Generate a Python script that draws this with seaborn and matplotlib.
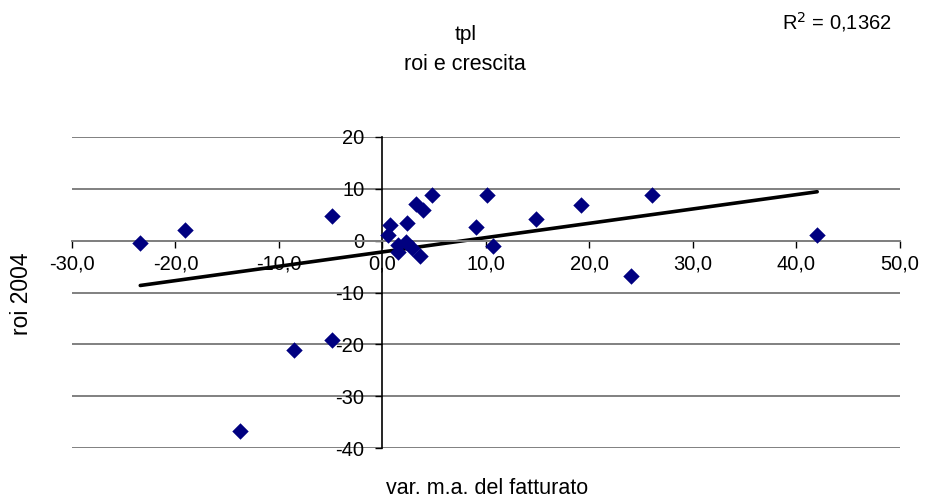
import numpy as np
import pandas as pd
import seaborn as sns
import matplotlib.pyplot as plt

# =========================
# DATA
# =========================
var_fatturato = [-23.4, -19.1, -13.8, -8.5, -4.9, -4.9, 0.5, 0.7, 1.5, 1.5, 2.3, 2.4, 2.9,
                 3.2, 3.6, 3.9, 4.8, 9.0, 10.1, 10.7, 14.8, 19.2, 24.0, 26.0, 42.0]
roi_2004 = [-0.4, 2.1, -36.8, -21.0, 4.8, -19.1, 1.0, 3.1, -0.9, -2.1, -0.3, 3.4, -1.4,
            7.1, -2.9, 6.0, 8.75, 2.6, 8.75, -1.0, 4.2, 6.8, -6.8, 8.75, 1.0]

x_ticks = [-30, -20, -10, 0, 10, 20, 30, 40, 50]
x_labels = ["-30,0", "-20,0", "-10,0", "0,0", "10,0", "20,0", "30,0", "40,0", "50,0"]
y_ticks = [-40, -30, -20, -10, 0, 10, 20]
y_labels = ["-40", "-30", "-20", "-10", "0", "10", "20"]

r2_text = "R$^2$ = 0,1362"

df = pd.DataFrame({"x": var_fatturato, "y": roi_2004})

# =========================
# STYLE
# =========================
sns.set_style("white")
plt.rcParams['font.family'] = ['Liberation Sans', 'DejaVu Sans']
plt.rcParams['axes.unicode_minus'] = False
plt.rcParams['text.color'] = 'black'
plt.rcParams['xtick.color'] = 'black'
plt.rcParams['ytick.color'] = 'black'

fig = plt.figure(figsize=(9.31, 5.0), dpi=100)
ax = fig.add_axes([0.0773, 0.104, 0.8894, 0.622])

# trend line (least squares over data range)
sns.regplot(data=df, x="x", y="y", scatter=False, ci=None, truncate=True,
            color="black", line_kws={"linewidth": 2.6}, ax=ax)

sns.scatterplot(data=df, x="x", y="y", marker="D", s=70, color="#000080",
                edgecolor="#000080", linewidth=0, ax=ax, zorder=4)

ax.set_xlim(-30, 50)
ax.set_ylim(-40, 20)

ax.yaxis.grid(True, color="#808080", linewidth=1.4)
ax.xaxis.grid(False)
ax.set_axisbelow(True)

for s in ["top", "right"]:
    ax.spines[s].set_visible(False)
ax.spines["bottom"].set_position(("data", 0))
ax.spines["left"].set_position(("data", 0))
ax.spines["bottom"].set_color("#808080")
ax.spines["bottom"].set_linewidth(1.4)
ax.spines["left"].set_color("black")
ax.spines["left"].set_linewidth(1.2)

# ticks after spine positioning (set_position resets them)
ax.set_xticks(x_ticks)
ax.set_xticklabels(x_labels)
ax.set_yticks(y_ticks)
ax.set_yticklabels(y_labels)
ax.tick_params(axis="x", direction="out", length=5, width=1, color="black",
               pad=5, labelsize=14.5, labelcolor="black")
ax.tick_params(axis="y", direction="out", length=5, width=1, color="black",
               pad=8, labelsize=14.5, labelcolor="black")
ax.tick_params(bottom=True, left=True)

ax.set_xlabel("")
ax.set_ylabel("")

fig.text(0.5005, 0.93, "tpl", ha="center", va="center", fontsize=15)
fig.text(0.4995, 0.872, "roi e crescita", ha="center", va="center", fontsize=15.5)
fig.text(0.899, 0.955, r2_text, ha="center", va="center", fontsize=14.5)
fig.text(0.5236, 0.024, "var. m.a. del fatturato", ha="center", va="center", fontsize=15.5)
fig.text(0.023, 0.412, "roi 2004", ha="center", va="center", rotation=90, fontsize=16.5)

fig.savefig("out.png", dpi=100)
